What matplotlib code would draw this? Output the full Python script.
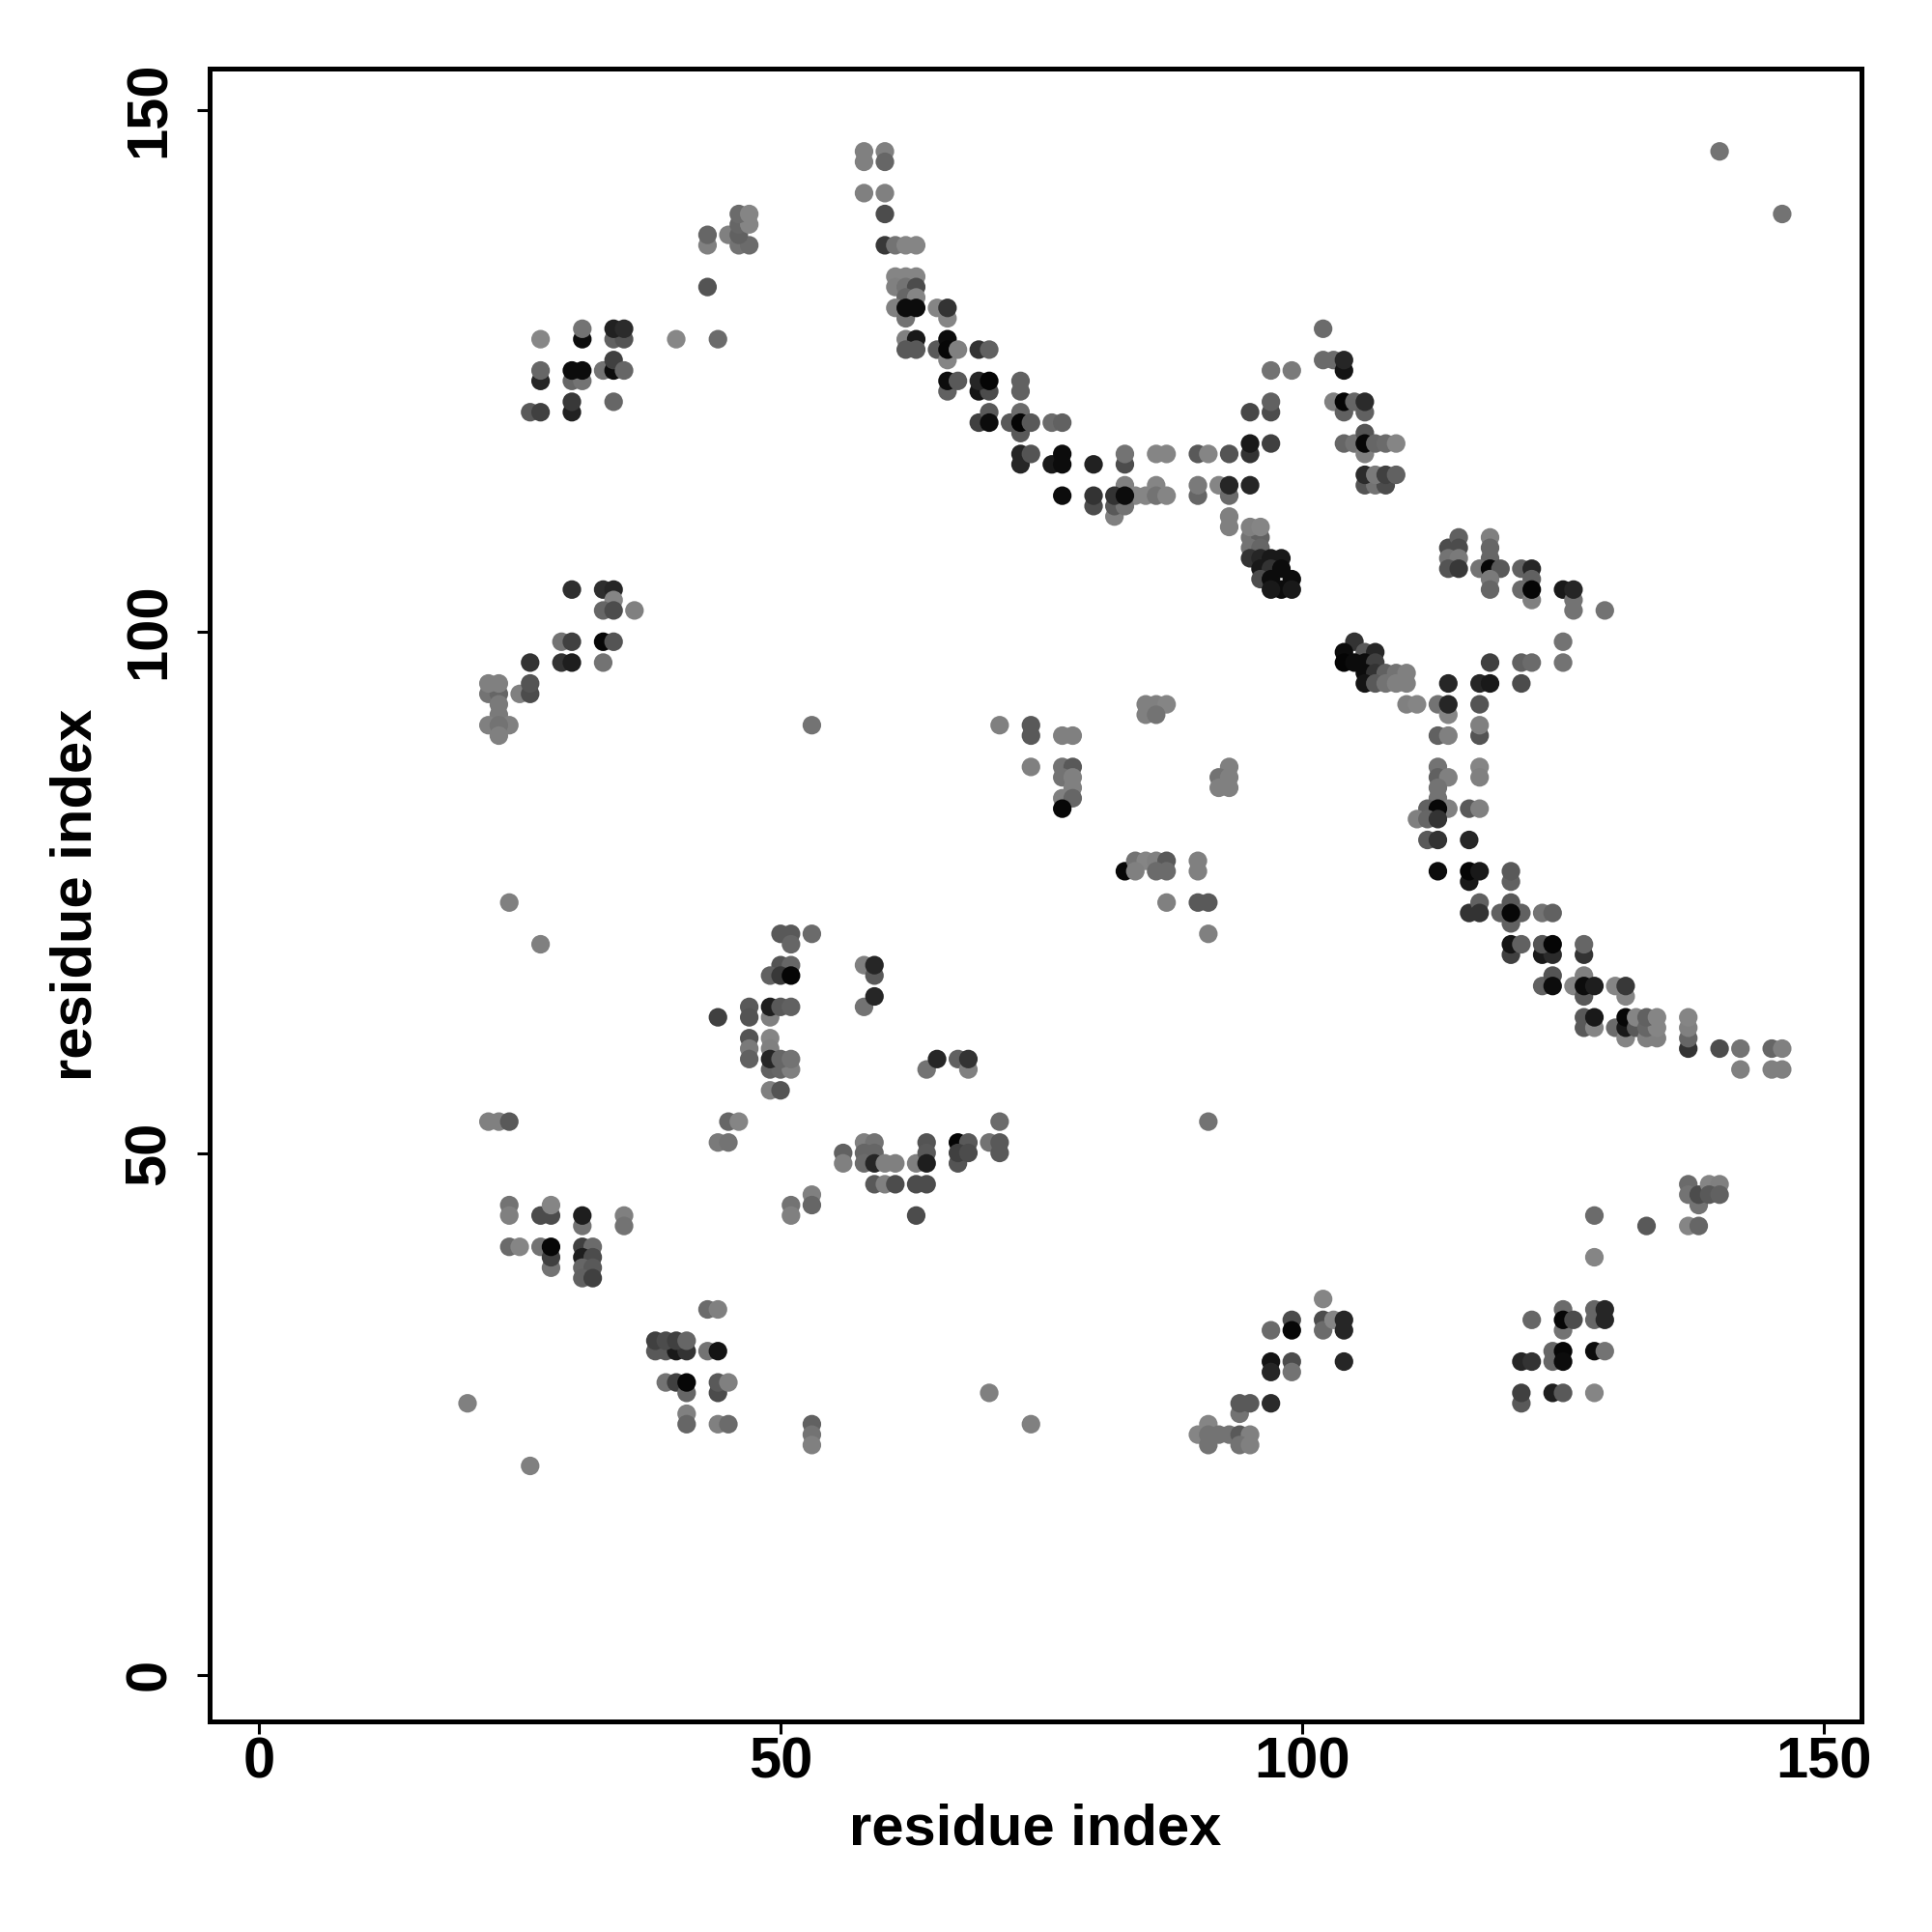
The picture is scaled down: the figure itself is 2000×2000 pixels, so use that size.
import matplotlib
matplotlib.use("Agg")
import matplotlib.pyplot as plt

# contacts: (residue i, residue j, grey level 0=black .. 0.55=light)
top_left = [
    (31, 128, .05), (31, 129, .45), (27, 128, .53),
    (34, 128, .38), (35, 128, .33), (34, 129, .13), (35, 129, .17),
    (40, 128, .53), (44, 128, .42), (43, 133, .33),
    (43, 137, .5), (43, 138, .4), (45, 138, .5),
    (46, 137, .45), (47, 137, .42), (46, 138, .38), (46, 139, .4), (47, 139, .52), (46, 140, .42), (47, 140, .52),
    (27, 124, .15), (27, 125, .4),
    (30, 124, .4), (31, 124, .45), (30, 125, .05), (31, 125, .05),
    (33, 125, .45), (34, 125, .05), (34, 126, .25), (35, 125, .4),
    (34, 122, .4), (26, 121, .35), (27, 121, .25), (30, 121, .13), (30, 122, .22),
]

upper_band = [
    (58, 146, .5), (60, 146, .5), (58, 145, .5), (60, 145, .4),
    (58, 142, .5), (60, 142, .5), (60, 140, .3),
    (60, 137, .22), (61, 137, .45), (62, 137, .52), (63, 137, .52),
    (61, 134, .52), (62, 134, .52), (63, 134, .52),
    (61, 133, .5), (62, 133, .45), (63, 133, .3),
    (62, 132, .4), (63, 132, .52),
    (61, 131, .5), (62, 130, .45), (62, 131, .05), (63, 131, .05),
    (65, 131, .52), (66, 130, .52), (66, 131, .2),
    (62, 128, .5), (63, 128, .1), (62, 127, .35), (63, 127, .35),
    (65, 127, .35), (66, 126, .52), (66, 128, .05), (66, 127, .03), (67, 127, .5),
    (69, 127, .2), (70, 127, .38),
    (66, 123, .38), (66, 124, .05), (67, 124, .35),
    (69, 123, .08), (70, 123, .3), (69, 124, .15), (70, 124, .02),
    (73, 123, .38), (73, 124, .38),
    (69, 120, .25), (70, 121, .35), (70, 120, .05),
    (72, 120, .35), (73, 121, .42), (73, 119, .35), (73, 120, .02), (74, 120, .35),
    (76, 120, .42), (77, 120, .38),
    (73, 116, .15), (73, 117, .15), (74, 117, .33),
    (76, 116, .1), (77, 117, .05), (77, 116, .05),
    (80, 116, .13),
    (77, 113, .05), (80, 112, .3), (80, 113, .2),
]

upper_mid = [
    (102, 129, .42),
    (102, 126, .42), (103, 126, .42), (104, 125, .08), (104, 126, .15),
    (97, 125, .45), (99, 125, .48),
    (97, 121, .3), (97, 122, .38), (95, 121, .28),
    (95, 117, .2), (95, 118, .1), (97, 118, .25),
    (103, 122, .5), (104, 121, .38), (104, 122, .02), (105, 122, .4), (106, 121, .38), (106, 122, .17),
    (104, 118, .4), (105, 118, .45), (106, 117, .5), (106, 119, .33), (106, 118, .03),
    (107, 118, .4), (108, 118, .42), (109, 118, .52),
    (106, 114, .33), (107, 114, .45), (108, 114, .3), (106, 115, .17), (107, 115, .48),
    (108, 115, .25), (109, 115, .38),
    (83, 116, .3), (83, 117, .45),
    (86, 117, .52), (87, 117, .52),
    (90, 117, .35), (91, 117, .52), (93, 117, .33),
    (90, 113, .4), (90, 114, .48),
    (92, 114, .52), (93, 113, .42), (93, 114, .15), (95, 114, .15),
    (93, 110, .5), (93, 111, .5),
    (83, 114, .5), (86, 114, .52), (84, 113, .52), (85, 113, .52), (86, 113, .45), (87, 113, .52),
    (82, 111, .5), (82, 112, .35), (83, 112, .45), (82, 113, .2), (83, 113, .05),
    (95, 109, .45), (96, 109, .38), (95, 110, .5), (96, 110, .52),
    (95, 108, .45), (96, 108, .4), (95, 107, .2), (96, 107, .15), (97, 107, .1), (98, 107, .1),
    (96, 106, .1), (97, 106, .2), (98, 106, .05), (96, 105, .3), (97, 105, .05), (99, 105, .05),
    (98, 104, .05), (97, 104, .1), (99, 104, .1),
]

right_mid = [
    (114, 108, .3), (115, 109, .38), (115, 108, .3), (114, 107, .45), (115, 107, .48),
    (114, 106, .33), (115, 106, .22),
    (118, 109, .5), (118, 108, .4), (118, 107, .4), (117, 106, .45), (118, 106, .03),
    (119, 106, .35), (118, 105, .48), (118, 104, .4),
    (121, 106, .38), (122, 106, .15), (122, 105, .38), (121, 104, .42), (122, 103, .5), (122, 104, .02),
    (125, 104, .1), (126, 103, .45), (126, 102, .45), (126, 104, .15),
    (129, 102, .45),
    (125, 99, .45), (125, 97, .45),
    (118, 97, .25), (121, 97, .38), (122, 97, .42),
]

descending = [
    (105, 99, .2), (104, 98, .05), (106, 98, .35), (107, 98, .15),
    (104, 97, .02), (105, 97, .05), (106, 97, .05), (107, 97, .25),
    (106, 96, .05), (107, 96, .2), (108, 96, .38), (109, 96, .45), (110, 96, .5),
    (106, 95, .08), (107, 95, .35), (108, 95, .45), (109, 95, .5), (110, 95, .5),
    (110, 93, .5), (111, 93, .52), (113, 93, .45), (114, 92, .52), (114, 93, .15),
    (114, 95, .15), (117, 95, .15), (118, 95, .1), (117, 93, .33), (121, 95, .3),
    (113, 90, .38), (114, 90, .5), (117, 90, .33), (117, 91, .5),
    (113, 87, .45), (113, 86, .38), (114, 86, .5), (113, 85, .45), (113, 84, .45),
    (117, 87, .52), (117, 86, .5),
    (112, 83, .38), (114, 83, .5), (113, 83, .03), (111, 82, .5), (112, 82, .4), (113, 82, .2),
    (116, 83, .35), (117, 83, .5),
    (112, 80, .35), (113, 80, .2), (116, 80, .15),
    (113, 77, .05), (116, 76, .1), (116, 77, .02), (117, 77, .1), (120, 76, .38), (120, 77, .35),
]

lower_tail = [
    (116, 73, .2), (117, 74, .38), (117, 73, .2),
    (119, 73, .38), (120, 72, .38), (120, 74, .35), (121, 73, .38), (120, 73, .03),
    (123, 73, .45), (124, 73, .38),
    (120, 69, .25), (120, 70, .08), (121, 70, .38),
    (123, 69, .1), (124, 69, .17), (123, 70, .33), (124, 70, .02),
    (127, 69, .2), (127, 70, .4),
    (123, 66, .38), (124, 67, .33), (124, 66, .05),
    (126, 66, .52), (127, 65, .35), (127, 67, .5), (127, 66, .05), (128, 66, .12),
    (130, 66, .52), (131, 65, .52), (131, 66, .22),
    (127, 62, .35), (127, 63, .35), (128, 62, .52), (128, 63, .1),
    (130, 62, .42), (131, 61, .52), (131, 62, .1), (131, 63, .03), (132, 62, .35), (132, 63, .52),
    (133, 61, .5), (134, 61, .5), (133, 62, .4), (134, 62, .52), (133, 63, .38), (134, 63, .52),
    (137, 60, .2), (137, 61, .4), (137, 62, .5), (137, 63, .52),
    (140, 60, .3), (142, 60, .45), (142, 58, .5),
    (145, 60, .4), (146, 60, .5), (145, 58, .5), (146, 58, .5),
    (140, 146, .45), (146, 140, .45),
]

left_mid = [
    (30, 104, .18), (33, 104, .18), (34, 104, .15),
    (34, 103, .52), (33, 102, .4), (34, 102, .3), (36, 102, .5),
    (29, 99, .45), (30, 99, .25), (33, 99, .03), (34, 99, .33),
    (33, 97, .45), (29, 97, .2), (30, 97, .12),
    (26, 97, .2),
    (25, 94, .5), (26, 94, .3), (26, 95, .33),
    (22, 94, .45), (23, 94, .4), (22, 95, .5), (23, 95, .5), (23, 93, .48), (23, 92, .48),
    (22, 91, .5), (24, 91, .5), (23, 91, .45), (23, 90, .5),
]

centre = [
    (53, 91, .45),
    (71, 91, .5), (74, 91, .35), (74, 90, .35),
    (77, 90, .5), (78, 90, .5),
    (74, 87, .5),
    (77, 87, .45), (78, 87, .35), (77, 86, .45), (78, 86, .5), (78, 85, .5),
    (77, 84, .5), (78, 84, .4), (77, 83, .03),
    (85, 93, .5), (86, 93, .5), (87, 93, .52), (85, 92, .5), (86, 92, .45),
    (93, 87, .5), (92, 86, .45), (93, 86, .5), (92, 85, .5), (93, 85, .5),
    (83, 77, .03), (84, 78, .45), (85, 78, .52), (86, 78, .5), (87, 78, .35),
    (84, 77, .5), (86, 77, .42), (87, 77, .42),
    (90, 78, .5), (90, 77, .5),
    (87, 74, .5), (90, 74, .35), (91, 74, .35),
    (91, 71, .5),
]

left_low = [
    (24, 74, .5), (27, 70, .5),
    (50, 71, .35), (51, 71, .35), (53, 71, .42), (51, 70, .4),
    (50, 68, .33), (51, 68, .4), (49, 67, .38), (50, 67, .22), (51, 67, .02),
    (44, 63, .25),
    (47, 64, .35), (47, 63, .33), (49, 63, .5), (49, 64, .12), (50, 64, .35), (51, 64, .38),
    (47, 61, .33), (47, 60, .48), (47, 59, .38),
    (49, 61, .52), (49, 60, .5), (49, 58, .38), (50, 58, .4), (51, 58, .5),
    (49, 59, .15), (50, 59, .4), (51, 59, .45),
    (49, 56, .5), (50, 56, .33),
]

centre_low = [
    (58, 68, .5), (59, 67, .35), (59, 68, .15),
    (58, 64, .45), (59, 65, .15),
    (64, 58, .45), (65, 59, .15), (67, 59, .38), (68, 58, .5), (68, 59, .2),
    (71, 53, .42),
    (56, 50, .38), (56, 49, .5),
    (58, 51, .5), (59, 51, .45), (58, 50, .4), (59, 50, .4), (58, 49, .42), (59, 49, .15),
    (60, 49, .5), (61, 49, .5),
    (63, 49, .5), (64, 51, .33), (64, 50, .35), (64, 49, .12),
    (59, 47, .35), (60, 47, .5), (61, 47, .3), (63, 47, .3), (64, 47, .3),
    (63, 44, .3),
    (67, 49, .33), (67, 51, .02), (68, 51, .35), (67, 50, .25), (68, 50, .3),
    (70, 51, .45), (71, 51, .35), (71, 50, .35),
]

bottom_left = [
    (22, 53, .5), (23, 53, .5), (24, 53, .35),
    (45, 53, .4), (46, 53, .52), (44, 51, .48), (45, 51, .45),
    (53, 46, .5), (53, 45, .4), (51, 45, .45), (51, 44, .5),
    (24, 45, .45), (24, 44, .5),
    (27, 44, .3), (28, 44, .3), (28, 45, .52),
    (31, 43, .45), (31, 44, .12),
    (35, 44, .5), (35, 43, .45),
    (24, 41, .42), (25, 41, .52), (27, 41, .45), (28, 39, .45), (28, 40, .25), (28, 41, .03),
    (31, 41, .25), (32, 41, .42), (31, 40, .12), (32, 40, .3), (31, 39, .4), (32, 39, .35),
    (31, 38, .38), (32, 38, .25),
    (43, 35, .42), (44, 35, .5),
    (38, 31, .35), (39, 31, .35), (40, 31, .1), (41, 31, .2),
    (38, 32, .25), (39, 32, .3), (40, 32, .25), (41, 32, .4),
    (43, 31, .45), (44, 31, .08),
    (39, 28, .45), (40, 28, .25), (41, 27, .4), (41, 28, .03),
    (44, 27, .3), (44, 28, .35), (45, 28, .5),
    (41, 25, .5), (41, 24, .4), (44, 24, .5), (45, 24, .42),
    (20, 26, .5), (26, 20, .5),
    (53, 24, .38), (53, 23, .45), (53, 22, .5),
    (70, 27, .5), (74, 24, .5),
]

bottom_right = [
    (91, 53, .45),
    (128, 44, .42), (133, 43, .35),
    (137, 47, .42), (137, 46, .45), (138, 45, .45), (138, 46, .3), (139, 47, .52), (140, 47, .5),
    (139, 46, .35), (140, 46, .38),
    (137, 43, .52), (138, 43, .4),
    (128, 40, .52),
    (128, 35, .4), (128, 34, .4), (129, 35, .15), (129, 34, .15),
    (125, 35, .42), (125, 33, .45), (125, 34, .03), (126, 34, .3),
    (122, 34, .4),
    (128, 31, .05), (129, 31, .45),
    (124, 31, .4), (124, 30, .4), (125, 31, .03), (125, 30, .05),
    (121, 30, .15), (122, 30, .2),
    (121, 26, .35), (121, 27, .25), (124, 27, .12), (125, 27, .35), (128, 27, .52),
    (97, 33, .42), (99, 34, .3), (99, 33, .03),
    (102, 36, .52), (102, 34, .3), (102, 33, .42), (103, 34, .52), (104, 34, .15), (104, 33, .15),
    (97, 30, .08), (97, 29, .15), (99, 30, .3), (99, 29, .45),
    (104, 30, .15),
    (94, 25, .45), (94, 26, .35), (95, 26, .35), (97, 26, .17),
    (90, 23, .52), (91, 24, .52), (91, 23, .45), (91, 22, .45), (92, 23, .45), (93, 23, .45),
    (94, 23, .35), (95, 23, .5), (94, 22, .45), (95, 22, .5),
]

groups = [top_left, upper_band, upper_mid, right_mid, descending, lower_tail,
          left_mid, centre, left_low, centre_low, bottom_left, bottom_right]
contacts = [c for g in groups for c in g]
xs = [c[0] for c in contacts]
ys = [c[1] for c in contacts]
greys = [c[2] for c in contacts]

plt.rcParams['font.family'] = ['Liberation Sans', 'DejaVu Sans']

fig = plt.figure(figsize=(10, 10), dpi=200)
ax = fig.add_axes([0.1085, 0.109, 0.855, 0.8553])
ax.scatter(xs, ys, c=greys, cmap='gray', vmin=0, vmax=1, s=48, linewidths=0)

ax.set_xlim(-4.72, 153.6)
ax.set_ylim(-4.49, 153.9)
ticks = [0, 50, 100, 150]
ax.set_xticks(ticks)
ax.set_yticks(ticks)
ax.tick_params(direction='out', length=4.7, width=1.1, labelsize=21.5)
ax.tick_params(axis='x', pad=1)
ax.tick_params(axis='y', pad=7.5)
for t in ax.get_xticklabels() + ax.get_yticklabels():
    t.set_fontweight('bold')
for t in ax.get_yticklabels():
    t.set_rotation(90)
    t.set_va('center')
for s in ax.spines.values():
    s.set_linewidth(1.8)

ax.set_xlabel('residue index', fontsize=21.5, fontweight='bold', va='center')
ax.set_ylabel('residue index', fontsize=21.5, fontweight='bold', va='center')
ax.xaxis.set_label_coords(0.5, -0.0655)
ax.yaxis.set_label_coords(-0.0807, 0.5)

fig.savefig('out.png', dpi=200)
